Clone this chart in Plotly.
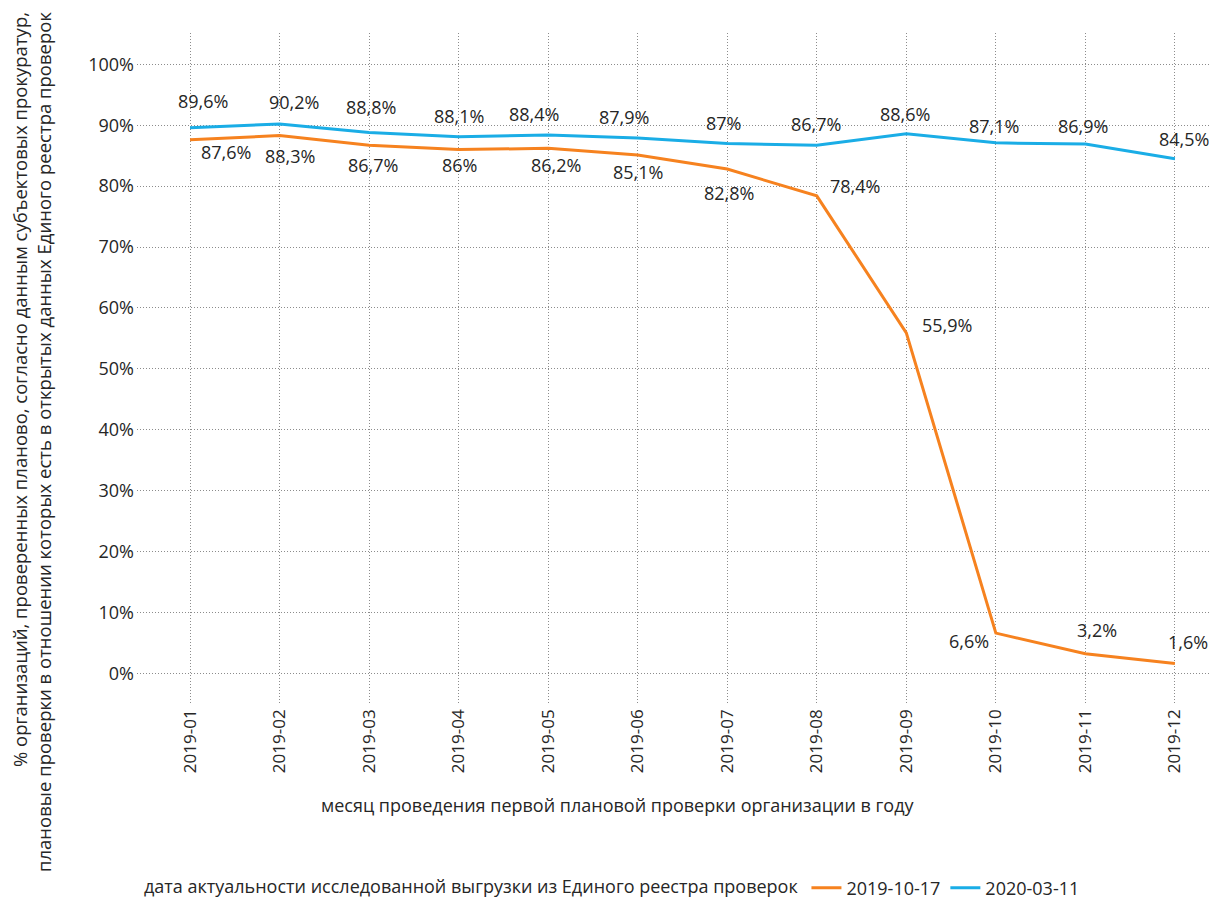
import plotly.graph_objects as go

months = ["2019-01", "2019-02", "2019-03", "2019-04", "2019-05", "2019-06",
          "2019-07", "2019-08", "2019-09", "2019-10", "2019-11", "2019-12"]
s_2019_10_17 = [87.6, 88.3, 86.7, 86.0, 86.2, 85.1, 82.8, 78.4, 55.9, 6.6, 3.2, 1.6]
s_2020_03_11 = [89.6, 90.2, 88.8, 88.1, 88.4, 87.9, 87.0, 86.7, 88.6, 87.1, 86.9, 84.5]
y_ticks = [0, 10, 20, 30, 40, 50, 60, 70, 80, 90, 100]
series_names = ["2019-10-17", "2020-03-11"]

# label offsets (style only, in px)
off_orange = [(36, -12), (10, -20), (4, -20), (1, -15), (8, -17), (0, -17),
              (2, -24), (38, 10), (41, 8), (-27, -8), (12, 24), (13, 22)]
off_blue = [(13, 27), (14, 22), (2, 26), (0, 21), (-14, 21), (-14, 21),
            (-4, 20), (-1, 21), (-1, 20), (-2, 17), (-2, 18), (9, 20)]

ORANGE = "#f6821f"
BLUE = "#1aade6"
FONT = "Open Sans"
TXT = "#262626"
GRID = "#8c8c8c"

# layout geometry (page is rendered with an 8px body offset)
PAGE_OFF = 8
L, T, W, H = 129, 25, 1080, 670


def px(page_x):
    return (page_x - PAGE_OFF - L) / W


def py(page_y):
    return (T + H + PAGE_OFF - page_y) / H


def fmt(v):
    return f"{v:g}".replace(".", ",") + "%"


fig = go.Figure()
fig.add_trace(go.Scatter(x=months, y=s_2019_10_17, mode="lines", name=series_names[0],
                         line=dict(color=ORANGE, width=3)))
fig.add_trace(go.Scatter(x=months, y=s_2020_03_11, mode="lines", name=series_names[1],
                         line=dict(color=BLUE, width=3)))

ann = []
for vals, offs in ((s_2019_10_17, off_orange), (s_2020_03_11, off_blue)):
    for m, v, (dx, dy) in zip(months, vals, offs):
        ann.append(dict(x=m, y=v, xref="x", yref="y", text=fmt(v), showarrow=False,
                        xshift=dx, yshift=dy, font=dict(family=FONT, size=18, color=TXT)))

ann.append(dict(x=px(618), y=py(805), xref="paper", yref="paper",
                text="месяц проведения первой плановой проверки организации в году",
                showarrow=False, xanchor="center", yanchor="middle",
                font=dict(family=FONT, size=18, color=TXT)))
ann.append(dict(x=px(32), y=py(10), xref="paper", yref="paper",
                text="% организаций, проверенных планово, согласно данным субъектовых прокуратур,<br>"
                     "плановые проверки в отношении которых есть в открытых данных Единого реестра проверок",
                showarrow=False, xanchor="center", yanchor="top", textangle=-90, align="right",
                font=dict(family=FONT, size=18.5, color=TXT)))

fig.update_layout(
    width=1217, height=900,
    margin=dict(l=L, r=1217 - L - W, t=T, b=900 - T - H, autoexpand=False),
    paper_bgcolor="white", plot_bgcolor="white",
    font=dict(family=FONT, size=17, color=TXT),
    annotations=ann,
    showlegend=True,
    legend=dict(orientation="h", x=px(142), xanchor="left",
                y=py(888), yanchor="middle",
                title=dict(text="дата актуальности исследованной выгрузки из Единого реестра проверок",
                           side="left", font=dict(family=FONT, size=18, color=TXT)),
                font=dict(family=FONT, size=18, color=TXT),
                itemwidth=30, tracegroupgap=0),
    xaxis=dict(type="category", range=[-0.592, 11.47], tickangle=-90,
               showgrid=True, gridcolor=GRID, griddash="1px,2px", gridwidth=1,
               showline=False, zeroline=False, ticks="", ticklabelstandoff=2,
               automargin=False,
               tickfont=dict(family=FONT, size=17, color=TXT)),
    yaxis=dict(range=[-4.88, 105.14], tickvals=y_ticks,
               ticktext=[f"{t}%" for t in y_ticks],
               showgrid=True, gridcolor=GRID, griddash="1px,2px", gridwidth=1,
               showline=False, zeroline=False, ticks="", ticklabelstandoff=2,
               automargin=False,
               tickfont=dict(family=FONT, size=18, color=TXT)),
)

fig.write_html("out.html")
